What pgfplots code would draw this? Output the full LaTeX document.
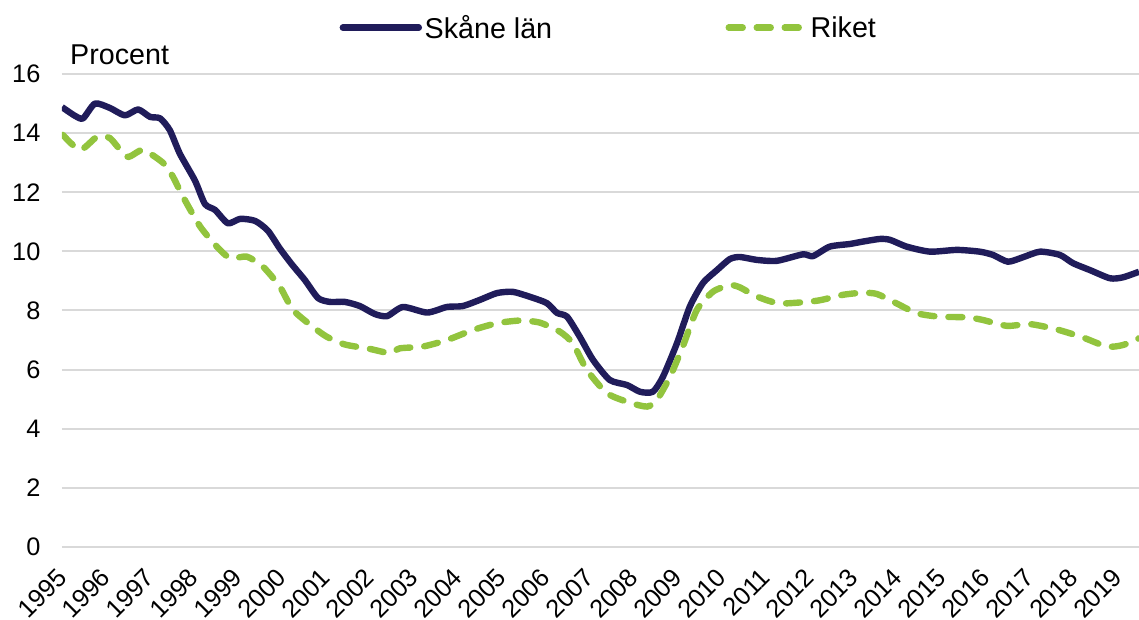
\documentclass[border=0pt]{standalone}
\usepackage{fontspec}
\setmainfont{Liberation Sans}
\usepackage{pgfplots}
\pgfplotsset{compat=1.18}
\definecolor{skane}{RGB}{32,28,90}
\definecolor{riket}{RGB}{146,196,62}
\definecolor{gridc}{RGB}{217,217,217}
\begin{document}
\begin{tikzpicture}
\path[use as bounding box] (0pt,0pt) rectangle (854.25pt,465pt);
\begin{axis}[
  at={(46.5pt,54.75pt)}, anchor=south west, scale only axis,
  width=807.75pt, height=354.75pt,
  clip mode=individual,
  xmin=1995, xmax=2019.48, ymin=0, ymax=16,
  ytick={0,2,...,16},
  xtick={1995,1996,...,2019},
  /pgf/number format/.cd, 1000 sep={}, assume math mode=true, /pgfplots/.cd,
  axis line style={draw=none},
  major tick length=0pt,
  tick style={draw=none},
  ymajorgrids, grid style={gridc, line width=1.5pt},
  every tick label/.append style={font=\fontsize{19}{21}\selectfont},
  yticklabel style={anchor=east, inner sep=0pt, xshift=-16pt},
  xticklabel style={xshift=0pt, yshift=-19.5pt, rotate=45, anchor=east, inner sep=0pt},
  legend style={at={(0.508,1.098)}, anchor=center, draw=none, fill=none,
    font=\fontsize{21.5}{24}\selectfont,
    /tikz/every even column/.append style={column sep=128pt}},
  legend columns=2,
  legend image code/.code={\draw[#1, line cap=round] (0pt,0pt) -- (57pt,0pt);},
]
\addplot[skane, line width=4.8pt, smooth, tension=0.4, line join=round] coordinates {
(1995.00,14.88) (1995.30,14.58) (1995.48,14.5) (1995.75,15.0) (1996.09,14.85)
(1996.43,14.6) (1996.73,14.8) (1997.00,14.55) (1997.23,14.5) (1997.45,14.1)
(1997.68,13.3) (1998.02,12.4) (1998.25,11.6) (1998.48,11.4) (1998.77,10.95)
(1999.05,11.1) (1999.39,11.03) (1999.68,10.7) (1999.95,10.1) (2000.23,9.55)
(2000.52,9.03) (2000.82,8.42) (2001.09,8.29) (2001.43,8.29) (2001.77,8.15)
(2002.11,7.88) (2002.39,7.81) (2002.75,8.12) (2003.30,7.93) (2003.75,8.12)
(2004.11,8.15) (2004.50,8.36) (2004.89,8.59) (2005.25,8.63) (2005.64,8.46)
(2006.02,8.25) (2006.25,7.92) (2006.48,7.79) (2006.77,7.11) (2007.07,6.33)
(2007.45,5.65) (2007.84,5.48) (2008.14,5.25) (2008.43,5.25) (2008.66,5.76)
(2008.98,6.9) (2009.27,8.13) (2009.57,8.93) (2009.89,9.37) (2010.18,9.74)
(2010.41,9.81) (2010.80,9.71) (2011.25,9.68) (2011.84,9.9) (2012.07,9.84)
(2012.45,10.16) (2012.91,10.25) (2013.20,10.33) (2013.59,10.42) (2013.82,10.39)
(2014.20,10.16) (2014.73,9.99) (2015.34,10.05) (2015.86,9.99) (2016.16,9.88)
(2016.50,9.65) (2016.84,9.8) (2017.23,9.99) (2017.68,9.88) (2017.98,9.6)
(2018.36,9.37) (2018.82,9.09) (2019.11,9.12) (2019.48,9.31)
};
\addlegendentry{Skåne län}
\addplot[riket, line width=4.8pt, smooth, tension=0.4, dash pattern=on 10.5pt off 10.5pt, line cap=round] coordinates {
(1995.02,13.94) (1995.41,13.43) (1995.80,13.88) (1996.09,13.83) (1996.48,13.2)
(1996.84,13.43) (1997.30,12.99) (1997.52,12.53) (1997.75,11.85) (1998.14,10.84)
(1998.52,10.16) (1998.82,9.77) (1999.20,9.82) (1999.57,9.48) (1999.95,8.81)
(2000.25,8.02) (2000.70,7.45) (2001.02,7.11) (2001.43,6.85) (2002.00,6.7)
(2002.45,6.56) (2002.68,6.72) (2003.20,6.78) (2003.75,7.0) (2004.34,7.34)
(2004.89,7.57) (2005.41,7.66) (2005.86,7.59) (2006.32,7.28) (2006.61,6.89)
(2006.93,5.99) (2007.39,5.2) (2007.91,4.88) (2008.30,4.75) (2008.52,4.97)
(2008.82,5.76) (2009.11,6.78) (2009.43,8.02) (2009.80,8.64) (2010.18,8.86)
(2010.41,8.78) (2010.80,8.47) (2011.32,8.24) (2012.16,8.33) (2012.75,8.53)
(2013.20,8.6) (2013.52,8.56) (2013.89,8.3) (2014.43,7.91) (2014.95,7.79)
(2015.57,7.77) (2015.93,7.68) (2016.48,7.48) (2017.00,7.54) (2017.61,7.36)
(2018.20,7.09) (2018.75,6.78) (2019.11,6.83) (2019.48,7.06)
};
\addlegendentry{Riket}
\node[anchor=west, inner sep=0pt, font=\fontsize{21.5}{24}\selectfont] at (rel axis cs:0.0074,1.04) {Procent};
\end{axis}
\end{tikzpicture}
\end{document}
